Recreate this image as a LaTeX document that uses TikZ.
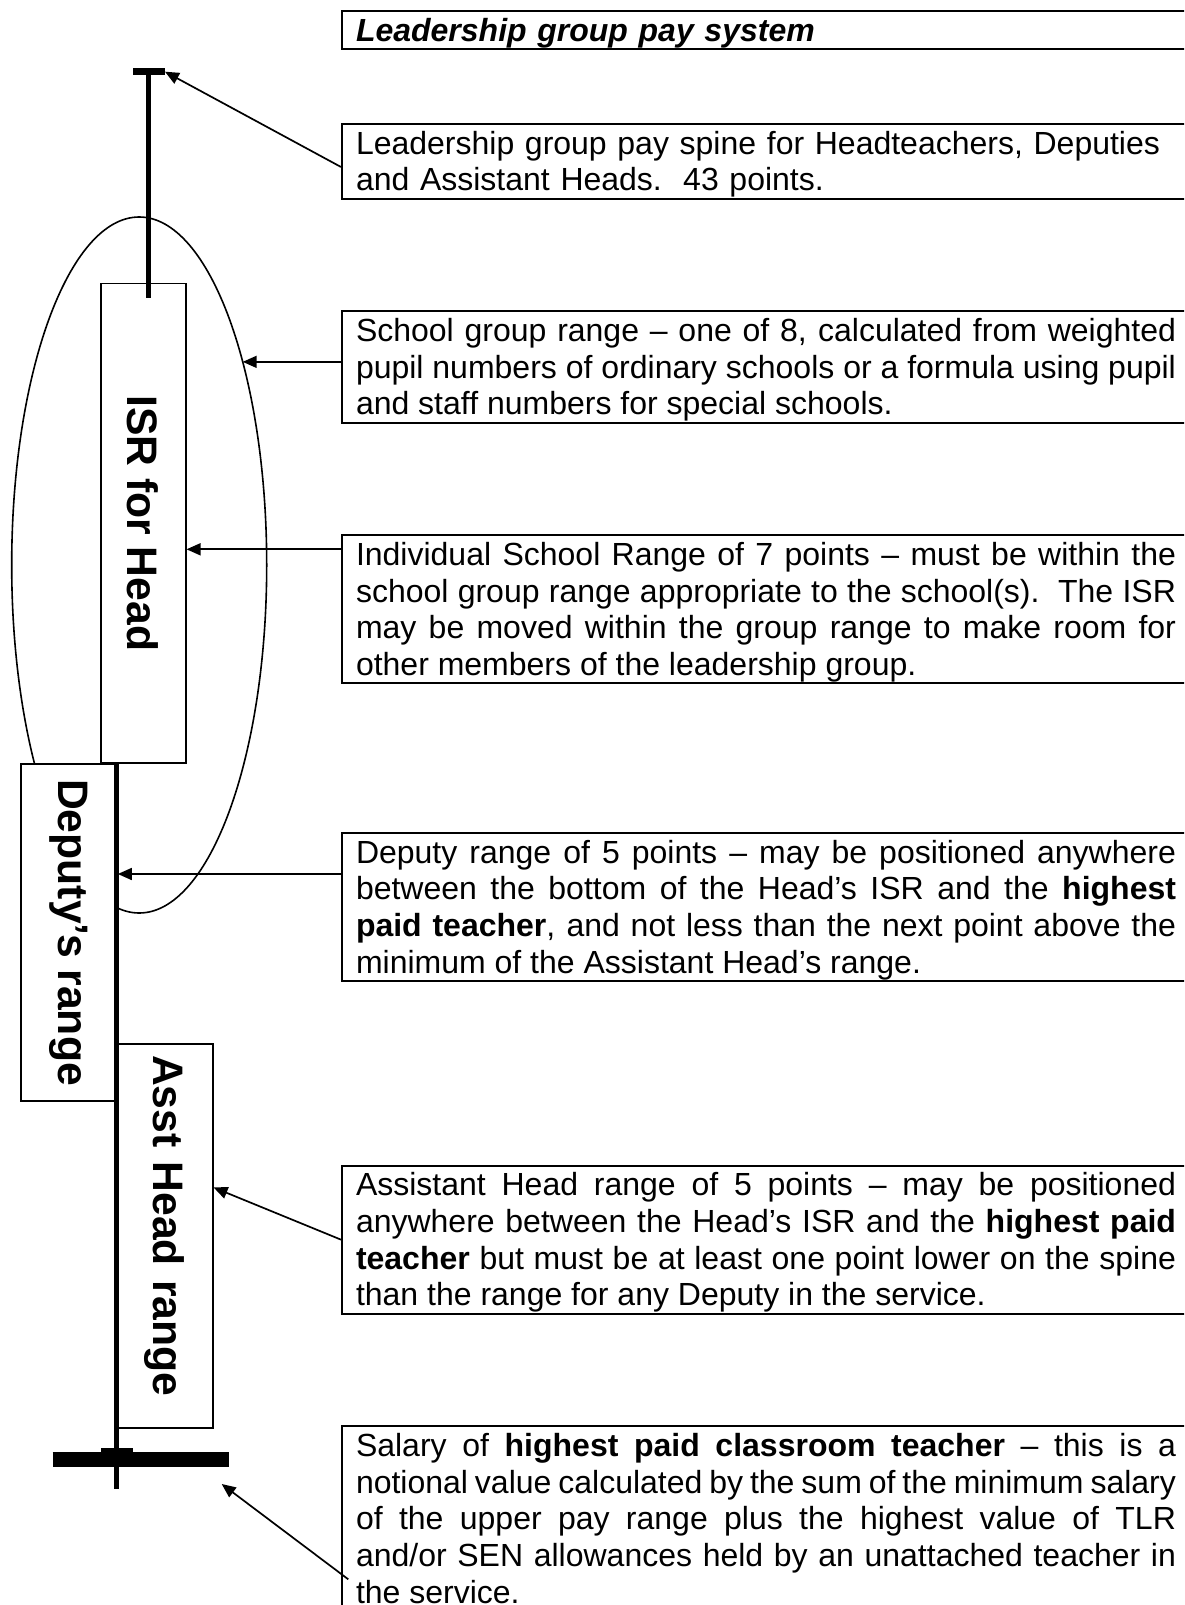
\documentclass[tikz,border=0pt]{standalone}
\usepackage{fontspec}
\setmainfont{Liberation Sans}
\usetikzlibrary{shapes.geometric, arrows.meta}
\newcommand{\notefont}{\fontsize{32pt}{36.7pt}\selectfont}
\newcommand{\rangefont}{\fontsize{42.67pt}{49pt}\selectfont\bfseries}
\newcommand{\topstrut}{\rule{0pt}{30.3pt}}
\newcommand{\botstrut}{\rule[-7.9pt]{0pt}{7.9pt}}
\tolerance=9999
\hyphenpenalty=10000

\begin{document}
\begin{tikzpicture}[
  x=1pt, y=1pt,
  note/.style={
    draw, line width=2pt, anchor=north west,
    text width=820pt, inner xsep=14pt, inner ysep=0pt,
    align=#1, font=\notefont
  },
  note/.default=justify,
  rangebox/.style={
    draw, fill=white, line width=1.7pt, rotate=-90,
    inner sep=0pt, font=\rangefont
  },
  spine/.style={line width=5pt},
  pointer/.style={line width=1.7pt, -{Triangle[length=14pt,width=12pt]}}
]
  \useasboundingbox (0,0) rectangle (1184,-1605);
  \clip (0,0) rectangle (1184,-1605);

  % pay spine and ranges
  \node[draw, ellipse, line width=1.6pt, inner sep=0pt, outer sep=0pt,
        minimum width=255pt, minimum height=696pt] (grp) at (139.2,-565) {};
  \node[rangebox, minimum width=479.5pt, minimum height=85pt] (isr)
    at (143.2,-523.25) {ISR for Head};
  \node[rangebox, minimum width=336.4pt, minimum height=96.3pt] (dep)
    at (68.85,-932.5) {Deputy’s range};
  \node[rangebox, minimum height=95.7pt, text width=362pt, align=left,
        inner xsep=10.7pt] (asst) at (164.85,-1236) {Asst Head range};

  \coordinate (hitop) at (148.8,-71.7);
  \coordinate (hibot) at (148.8,-298);
  \coordinate (lotop) at (116.8,-763);
  \coordinate (lobot) at (116.8,-1489.3);
  \coordinate (tpaid) at (140.7,-1459.5);
  \coordinate (tpaidtip) at (221.7,-1484);

  \draw[line width=6.7pt] ([xshift=-15.8pt]hitop) -- ([xshift=16.2pt]hitop);
  \draw[spine] ([yshift=3.3pt]hitop) -- (hibot);
  \draw[spine] (lotop) -- (lobot);
  \draw[line width=6.3pt] (101,-1450.8) -- (132.7,-1450.8);
  \draw[line width=15.6pt] ([xshift=-88pt]tpaid) -- ([xshift=88pt]tpaid);

  % notes on the right
  \node[note=left] (title) at (341,-10)
    {\topstrut\textbf{\textit{Leadership group pay system}}\botstrut};
  \node[note=left] (spinenote) at (341,-123)
    {\topstrut Leadership group pay spine for Headteachers, Deputies\\
     and Assistant Heads.\ \ 43 points.\botstrut};
  \node[note] (groupnote) at (341,-310)
    {\topstrut School group range – one of 8, calculated from weighted\linebreak
     pupil numbers of ordinary schools or a formula using pupil\linebreak
     and staff numbers for special schools.\botstrut};
  \node[note] (isrnote) at (341,-534)
    {\topstrut Individual School Range of 7 points – must be within the\linebreak
     school group range appropriate to the school(s).\ \ The ISR\linebreak
     may be moved within the group range to make room for\linebreak
     other members of the leadership group.\botstrut};
  \node[note] (depnote) at (341,-831.7)
    {\topstrut Deputy range of 5 points – may be positioned anywhere\linebreak
     between the bottom of the Head’s ISR and the \textbf{highest}\linebreak
     \textbf{paid teacher}, and not less than the next point above the\linebreak
     minimum of the Assistant Head’s range.\botstrut};
  \node[note] (asstnote) at (341,-1164.5)
    {\topstrut Assistant Head range of 5 points – may be positioned\linebreak
     anywhere between the Head’s ISR and the \textbf{highest paid}\linebreak
     \textbf{teacher} but must be at least one point lower on the spine\linebreak
     than the range for any Deputy in the service.\botstrut};
  \node[note] (salnote) at (341,-1425)
    {\topstrut Salary of \textbf{highest paid classroom teacher} – this is a\linebreak
     notional value calculated by the sum of the minimum salary\linebreak
     of the upper pay range plus the highest value of TLR\linebreak
     and/or SEN allowances held by an unattached teacher in\linebreak
     the service.\botstrut};

  \draw[pointer] ([yshift=-44pt]spinenote.north west) -- ([xshift=16.2pt]hitop);
  \draw[pointer] (grp.63 -| groupnote.west) -- (grp.63);
  \draw[pointer] ([yshift=-15.3pt]isrnote.north west)
    -- ([yshift=-15.3pt]isrnote.north west -| isr.north);
  \draw[pointer] ([yshift=-42.3pt]depnote.north west)
    -- ([yshift=-42.3pt]depnote.north west -| dep.north);
  \draw[pointer] (asstnote.west) -- ([yshift=-144pt]asst.north west);
  \draw[pointer] ([shift={(7.3,-154.3)}]salnote.north west) -- (tpaidtip);
\end{tikzpicture}
\end{document}
